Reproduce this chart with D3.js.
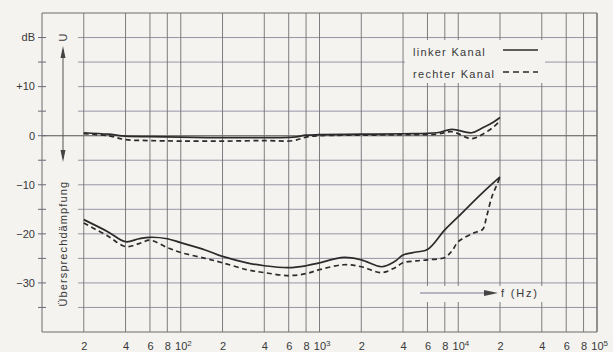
<!DOCTYPE html>
<html>
<head>
<meta charset="utf-8">
<script src="https://cdn.jsdelivr.net/npm/d3@7"></script>
<style>
  html, body { margin: 0; padding: 0; background: #f4f3f0; }
  svg { display: block; font-family: "Liberation Sans", Arial, sans-serif; }
</style>
</head>
<body>
<div id="chart"></div>
<script>
// frequency axis ticks (Hz) and their printed labels
const xTickValues = [20, 40, 60, 80, 100, 200, 400, 600, 800, 1000, 2000, 4000, 6000, 8000, 10000, 20000, 40000, 60000, 80000, 100000];
const xTickLabels = ["2", "4", "6", "8", "10²", "2", "4", "6", "8", "10³", "2", "4", "6", "8", "10⁴", "2", "4", "6", "8", "10⁵"];

// dB axis ticks
const yTickValues = [20, 15, 10, 5, 0, -5, -10, -15, -20, -25, -30, -35];
const yTickLabels = { 20: "dB", 10: "+10", 0: "0", "-10": "−10", "-20": "−20", "-30": "−30" };

// upper pair: frequency response
const freqUpper = [20, 30, 40, 60, 100, 200, 400, 650, 800, 1000, 2000, 4000, 7000, 9000, 12500, 15000, 18000, 20000];
const upperLinks = [0.6, 0.3, -0.1, -0.2, -0.3, -0.4, -0.4, -0.3, 0.1, 0.2, 0.3, 0.4, 0.6, 1.3, 0.6, 1.6, 2.8, 3.7];
const upperRechts = [0.4, 0.0, -0.8, -1.0, -1.1, -1.1, -1.0, -1.0, -0.3, 0.0, 0.1, 0.2, 0.3, 0.8, -0.6, 0.3, 1.8, 3.0];

// lower pair: crosstalk attenuation
const freqLinks = [20, 30, 40, 50, 60, 80, 100, 150, 200, 300, 400, 600, 800, 1000, 1500, 2000, 2800, 3500, 4000, 5000, 6000, 8000, 10000, 15000, 20000];
const lowerLinks = [-17.1, -19.6, -21.6, -21.0, -20.7, -21.0, -21.8, -23.3, -24.6, -25.9, -26.5, -26.9, -26.5, -25.9, -24.8, -25.3, -26.7, -25.6, -24.3, -23.7, -23.2, -19.2, -16.5, -11.6, -8.4];
const freqRechts = [20, 30, 40, 50, 60, 80, 100, 150, 200, 300, 400, 600, 800, 1000, 1500, 2000, 2800, 3500, 4000, 5000, 6000, 8000, 9000, 10000, 13000, 15000, 16000, 17500, 19000, 20000];
const lowerRechts = [-17.8, -20.5, -22.6, -22.0, -21.3, -22.8, -23.8, -25.0, -25.9, -27.3, -27.9, -28.5, -28.1, -27.3, -26.3, -26.7, -27.9, -26.9, -25.9, -25.5, -25.3, -24.8, -23.5, -21.6, -19.8, -19.1, -16.5, -12.4, -10.0, -8.4];

const width = 613;
const height = 352;
const bg = "#f4f3f0";
const ink = "#2b2b2b";
const textCol = "#383838";
const sup = { "²": "2", "³": "3", "⁴": "4", "⁵": "5" };

const svg = d3.select("#chart")
  .append("svg")
  .attr("width", width)
  .attr("height", height);

const x = d3.scaleLog().domain([10, 100000]).range([42, 597]);
const y = d3.scaleLinear().domain([-40, 25]).range([332, 13]);

// horizontal grid (starts right of the arrow, 0 dB line is full width)
svg.append("g")
  .selectAll("line")
  .data(yTickValues)
  .join("line")
  .attr("x1", d => d === 0 ? x(10) : 78)
  .attr("x2", x(100000))
  .attr("y1", d => y(d))
  .attr("y2", d => y(d))
  .attr("stroke", d => d === 0 ? "#555" : "#8d8a9c")
  .attr("stroke-width", d => d === 0 ? 1.1 : 0.9);

// vertical grid
svg.append("g")
  .selectAll("line")
  .data(xTickValues)
  .join("line")
  .attr("x1", d => x(d))
  .attr("x2", d => x(d))
  .attr("y1", y(25))
  .attr("y2", y(-40))
  .attr("stroke", "#707073")
  .attr("stroke-width", 0.9);

// frame
svg.append("path")
  .attr("d", `M${x(10)},${y(25)}H${x(100000)}V${y(-40)}H${x(10)}Z`)
  .attr("fill", "none")
  .attr("stroke", "#6a6a6a")
  .attr("stroke-width", 1);

// x axis labels
const xAxis = svg.append("g")
  .attr("transform", `translate(0,${y(-40)})`)
  .call(d3.axisBottom(x).tickValues(xTickValues).tickFormat((d, i) => xTickLabels[i]).tickSize(0).tickPadding(10));
xAxis.select(".domain").remove();
xAxis.selectAll("text")
  .attr("fill", textCol)
  .attr("font-size", 11)
  .attr("font-family", "Liberation Sans, Arial, sans-serif")
  .each(function (d, i) {
    const lab = xTickLabels[i];
    if (lab.length > 1) {
      const t = d3.select(this).text("10").attr("dx", "0.2em");
      t.append("tspan")
        .attr("font-size", 8)
        .attr("dy", "-0.45em")
        .text(sup[lab.slice(2)]);
    }
  });

// y axis ticks crossing the left border
svg.append("g")
  .selectAll("line")
  .data(yTickValues)
  .join("line")
  .attr("x1", 38)
  .attr("x2", 46)
  .attr("y1", d => y(d))
  .attr("y2", d => y(d))
  .attr("stroke", "#6a6a7a")
  .attr("stroke-width", 1);

svg.append("g")
  .selectAll("text")
  .data(yTickValues.filter(d => yTickLabels[d] !== undefined))
  .join("text")
  .attr("x", 35)
  .attr("y", d => y(d))
  .attr("dy", "0.35em")
  .attr("text-anchor", "end")
  .attr("font-size", 11)
  .attr("fill", textCol)
  .text(d => yTickLabels[d]);

// double arrow with U label
const ax = 63;
svg.append("line")
  .attr("x1", ax).attr("x2", ax)
  .attr("y1", 50).attr("y2", 158)
  .attr("stroke", "#555").attr("stroke-width", 1);
svg.append("path")
  .attr("d", `M${ax},46L${ax - 2.5},58L${ax + 2.5},58Z M${ax},162L${ax - 2.5},150L${ax + 2.5},150Z`)
  .attr("fill", "#444");
svg.append("text")
  .attr("transform", `translate(${ax + 4},${y(20)}) rotate(-90)`)
  .attr("text-anchor", "middle")
  .attr("font-size", 11)
  .attr("fill", textCol)
  .text("U");

svg.append("text")
  .attr("transform", `translate(${ax + 4},${y(-22)}) rotate(-90)`)
  .attr("text-anchor", "middle")
  .attr("font-size", 11)
  .attr("letter-spacing", 1.1)
  .attr("fill", textCol)
  .text("Übersprechdämpfung");

// curves
const line = d3.line()
  .x(d => x(d[0]))
  .y(d => y(d[1]))
  .curve(d3.curveCatmullRom.alpha(0.5));

const series = [
  { f: freqUpper, v: upperLinks, dash: null },
  { f: freqUpper, v: upperRechts, dash: "5,3.5" },
  { f: freqLinks, v: lowerLinks, dash: null },
  { f: freqRechts, v: lowerRechts, dash: "5,3.5" }
];

svg.append("g")
  .selectAll("path")
  .data(series)
  .join("path")
  .attr("d", s => line(s.f.map((f, i) => [f, s.v[i]])))
  .attr("fill", "none")
  .attr("stroke", ink)
  .attr("stroke-width", 1.7)
  .attr("stroke-dasharray", s => s.dash);

// legend
svg.append("rect")
  .attr("x", 405).attr("y", 40)
  .attr("width", 140).attr("height", 43)
  .attr("fill", bg);
const legend = [
  { label: "linker Kanal", dash: null },
  { label: "rechter Kanal", dash: "6,4" }
];
const lg = svg.append("g")
  .selectAll("g")
  .data(legend)
  .join("g")
  .attr("transform", (d, i) => `translate(413,${52 + i * 22})`);
lg.append("text")
  .attr("y", 3.5)
  .attr("font-size", 11)
  .attr("letter-spacing", 1.3)
  .attr("fill", textCol)
  .text(d => d.label);
lg.append("line")
  .attr("x1", 90).attr("x2", 125)
  .attr("y1", -2).attr("y2", -2)
  .attr("stroke", ink)
  .attr("stroke-width", 1.7)
  .attr("stroke-dasharray", d => d.dash);

// f (Hz) arrow
svg.append("rect")
  .attr("x", 412).attr("y", 286)
  .attr("width", 146).attr("height", 16)
  .attr("fill", bg);
svg.append("line")
  .attr("x1", 420).attr("x2", 486)
  .attr("y1", 293).attr("y2", 293)
  .attr("stroke", "#7a7590").attr("stroke-width", 1);
svg.append("path")
  .attr("d", "M498,293L484,290L484,296Z")
  .attr("fill", "#444");
svg.append("text")
  .attr("x", 501).attr("y", 297)
  .attr("font-size", 11)
  .attr("letter-spacing", 1.8)
  .attr("fill", textCol)
  .text("f (Hz)");
</script>
</body>
</html>
